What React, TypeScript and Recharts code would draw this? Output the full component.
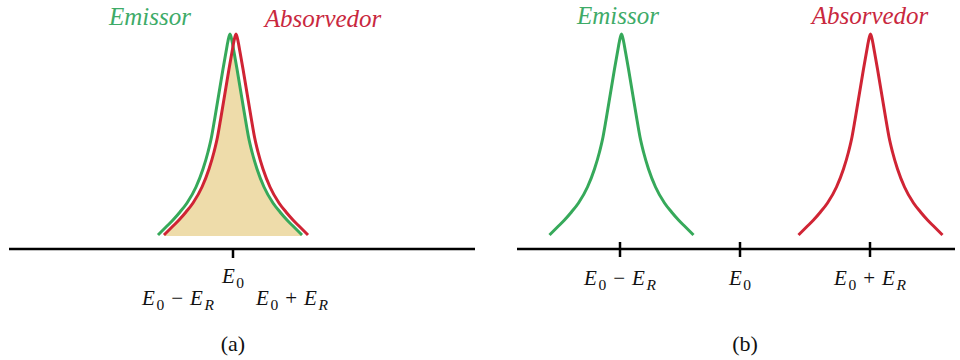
import React from 'react';
import { ComposedChart, Line, Area, XAxis, YAxis } from 'recharts';

// Line-shape profile (offset from peak, height above axis)
const shapeOffsets = [-72, -64, -57, -50, -43, -34, -27, -22, -18.5, -15.5, -12.5, -10, -7, -4, -2, 0, 2, 4, 7, 10, 12.5, 15.5, 18.5, 22, 27, 34, 43, 50, 57, 64, 72];
const shapeHeights = [14, 22, 29, 37, 46, 62, 80, 97, 112, 129, 147, 162, 180, 197, 208, 215, 208, 197, 180, 162, 147, 129, 112, 97, 80, 62, 46, 37, 29, 22, 14];

// Peak positions (energy axis units)
const emissorCenterA = 230;
const absorvedorCenterA = 236;
const emissorCenterB = 621.5;
const absorvedorCenterB = 870.5;

// Overlap (resonance) region of panel (a)
const overlapCrossA = { x: 233, h: 204 };
const overlapBaseA = 13;

// Axes
const axisDomainA = [9, 475];
const axisDomainB = [517, 955];
const yDomain = [0, 249];

// Tick labels
const tickValuesA = [178, 233, 292];
const tickMarkedA = [233];
const tickLabelsA = ['E_0 − E_R', 'E_0', 'E_0 + E_R'];
const tickDyA = [56, 34, 56];

const tickValuesB = [620, 740, 870];
const tickMarkedB = [620, 740, 870];
const tickLabelsB = ['E_0 − E_R', 'E_0', 'E_0 + E_R'];
const tickDyB = [36, 36, 36];

const GREEN = '#36a95a';
const RED = '#d02434';
const GREEN_TEXT = '#3eab68';
const RED_TEXT = '#c9283e';
const TAN = '#eedcaa';
const SERIF = "'Liberation Serif', 'Times New Roman', serif";

const buildCurve = (center: number) =>
  shapeOffsets.map((dx, i) => ({ x: center + dx, h: shapeHeights[i] }));

const emissorA = buildCurve(emissorCenterA);
const absorvedorA = buildCurve(absorvedorCenterA);
const emissorB = buildCurve(emissorCenterB);
const absorvedorB = buildCurve(absorvedorCenterB);

const overlapA = [
  ...absorvedorA.filter((p) => p.x < overlapCrossA.x),
  { x: overlapCrossA.x, h: overlapCrossA.h },
  ...emissorA.filter((p) => p.x > overlapCrossA.x),
];

function MathText({ x, y, text, size }: { x: number; y: number; text: string; size: number }) {
  const parts = text.split(' ');
  const children: any[] = [];
  let pendingDy = 0;
  const subDy = 4.5;
  const gap = 7;
  parts.forEach((p, idx) => {
    if (p.startsWith('E_')) {
      const sub = p.slice(2);
      children.push(
        <tspan key={idx + 'e'} fontStyle="italic" dy={pendingDy || undefined} dx={idx ? gap : undefined}>
          E
        </tspan>
      );
      children.push(
        <tspan key={idx + 's'} style={{ fontSize: size * 0.74, fontStyle: sub === 'R' ? 'italic' : 'normal' }} dy={subDy} dx={1.5}>
          {sub}
        </tspan>
      );
      pendingDy = -subDy;
    } else {
      children.push(
        <tspan key={idx + 'o'} dy={pendingDy || undefined} dx={gap}>
          {p}
        </tspan>
      );
      pendingDy = 0;
    }
  });
  return (
    <text x={x} y={y} textAnchor="middle" style={{ fontFamily: SERIF, fontSize: size }} fill="#111">
      {children}
    </text>
  );
}

const makeTick = (values: number[], labels: string[], marked: number[], dys: number[], markTop: number, markBottom: number) =>
  (props: any) => {
    const { x, y, payload } = props;
    const i = values.indexOf(payload.value);
    return (
      <g>
        {marked.includes(payload.value) && (
          <line x1={x} x2={x} y1={y - markTop} y2={y + markBottom} stroke="#000" strokeWidth={2.5} />
        )}
        {i >= 0 && <MathText x={x} y={y + dys[i]} text={labels[i]} size={21} />}
      </g>
    );
  };

const TickA = makeTick(tickValuesA, tickLabelsA, tickMarkedA, tickDyA, 0, 9);
const TickB = makeTick(tickValuesB, tickLabelsB, tickMarkedB, tickDyB, 7, 8);

const titleStyle = (size: number, italic: boolean) => ({ fontFamily: SERIF, fontSize: size, fontStyle: italic ? 'italic' : 'normal' });

export default function App() {
  return (
    <div style={{ position: 'absolute', left: 0, top: 0, width: 960, height: 360, background: '#fff', fontFamily: SERIF }}>
      <div style={{ position: 'absolute', left: axisDomainA[0], top: 0 }}>
        <ComposedChart width={axisDomainA[1] - axisDomainA[0]} height={360} margin={{ top: 0, right: 0, bottom: 0, left: 0 }}>
          <XAxis
            dataKey="x"
            type="number"
            domain={axisDomainA}
            allowDataOverflow
            ticks={tickValuesA}
            interval={0}
            height={111}
            tickSize={0}
            tickMargin={0}
            tickLine={false}
            axisLine={{ stroke: '#000', strokeWidth: 2.5 }}
            tick={TickA}
          />
          <YAxis hide type="number" domain={yDomain} allowDataOverflow />
          <Area
            data={overlapA}
            dataKey="h"
            type="monotone"
            baseValue={overlapBaseA}
            stroke="none"
            fill={TAN}
            fillOpacity={1}
            isAnimationActive={false}
          />
          <Line data={emissorA} dataKey="h" type="monotone" stroke={GREEN} strokeWidth={3} dot={false} isAnimationActive={false} />
          <Line data={absorvedorA} dataKey="h" type="monotone" stroke={RED} strokeWidth={3} dot={false} isAnimationActive={false} />
        </ComposedChart>
      </div>
      <div style={{ position: 'absolute', left: axisDomainB[0], top: 0 }}>
        <ComposedChart width={axisDomainB[1] - axisDomainB[0]} height={360} margin={{ top: 0, right: 0, bottom: 0, left: 0 }}>
          <XAxis
            dataKey="x"
            type="number"
            domain={axisDomainB}
            allowDataOverflow
            ticks={tickValuesB}
            interval={0}
            height={111}
            tickSize={0}
            tickMargin={0}
            tickLine={false}
            axisLine={{ stroke: '#000', strokeWidth: 2.5 }}
            tick={TickB}
          />
          <YAxis hide type="number" domain={yDomain} allowDataOverflow />
          <Line data={emissorB} dataKey="h" type="monotone" stroke={GREEN} strokeWidth={3} dot={false} isAnimationActive={false} />
          <Line data={absorvedorB} dataKey="h" type="monotone" stroke={RED} strokeWidth={3} dot={false} isAnimationActive={false} />
        </ComposedChart>
      </div>
      <svg width={960} height={360} style={{ position: 'absolute', left: 0, top: 0, pointerEvents: 'none' }}>
        <text x={150} y={25} textAnchor="middle" style={titleStyle(25, true)} fill={GREEN_TEXT}>Emissor</text>
        <text x={323} y={27} textAnchor="middle" style={titleStyle(25, true)} fill={RED_TEXT}>Absorvedor</text>
        <text x={618} y={24} textAnchor="middle" style={titleStyle(25, true)} fill={GREEN_TEXT}>Emissor</text>
        <text x={870} y={24} textAnchor="middle" style={titleStyle(25, true)} fill={RED_TEXT}>Absorvedor</text>
        <text x={233} y={351} textAnchor="middle" style={titleStyle(22, false)} fill="#111">(a)</text>
        <text x={745} y={351} textAnchor="middle" style={titleStyle(22, false)} fill="#111">(b)</text>
      </svg>
    </div>
  );
}
